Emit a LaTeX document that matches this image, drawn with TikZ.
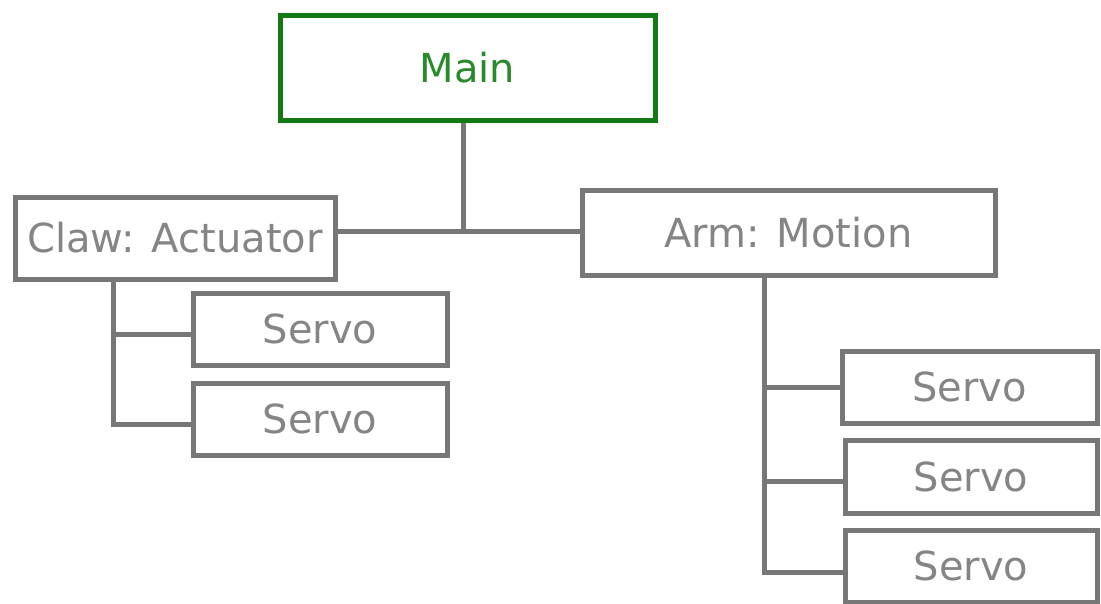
\documentclass[tikz,border=0pt]{standalone}
\usepackage{fontspec}
\setmainfont{DejaVu Sans}
\definecolor{treegray}{HTML}{777777}
\definecolor{labelgray}{HTML}{858585}
\definecolor{rootgreen}{HTML}{137A13}
\definecolor{roottext}{HTML}{2A8A2A}
\begin{document}
\begin{tikzpicture}[x=1pt,y=-1pt,
  box/.style={draw=treegray, line width=5pt, rectangle, inner sep=0pt,
    fill=white, text=labelgray, font=\fontsize{40}{48}\selectfont},
  rootbox/.style={box, draw=rootgreen, text=roottext},
  link/.style={draw=treegray, line width=5pt}]
  \useasboundingbox (0,0) rectangle (1101,603);

  % boxes
  \node[rootbox, minimum width=375pt, minimum height=105pt] (main) at (467.5,67.5) {Main};
  \node[box, minimum width=320pt, minimum height=82pt] (claw) at (175,238) {Claw: Actuator};
  \node[box, minimum width=413pt, minimum height=85pt] (arm) at (788.5,232.5) {Arm: Motion};
  \node[box, minimum width=254pt, minimum height=72pt] (cs1) at (320,329) {Servo};
  \node[box, minimum width=254pt, minimum height=72pt] (cs2) at (320,419) {Servo};
  \node[box, minimum width=255pt, minimum height=72pt] (as1) at (969.5,387) {Servo};
  \node[box, minimum width=252pt, minimum height=73pt] (as2) at (971,476.5) {Servo};
  \node[box, minimum width=252pt, minimum height=72pt] (as3) at (971,566) {Servo};

  % junction points of the tree lines
  \coordinate (top) at (463,231);
  \coordinate (cbus) at (113,0);
  \coordinate (c1) at (0,334);
  \coordinate (c2) at (0,424);
  \coordinate (abus) at (764,0);
  \coordinate (a1) at (0,387);
  \coordinate (a2) at (0,481);
  \coordinate (a3) at (0,572);

  % main to its two children
  \draw[link] (main.south -| top) -- (top);
  \draw[link] (claw.east |- top) -- (arm.west |- top);

  % claw branch
  \draw[link] (claw.south -| cbus) -- (cbus |- c2) -- (cs2.west |- c2);
  \draw[link] (cbus |- c1) -- (cs1.west |- c1);

  % arm branch
  \draw[link] (arm.south -| abus) -- (abus |- a3) -- (as3.west |- a3);
  \draw[link] (abus |- a1) -- (as1.west |- a1);
  \draw[link] (abus |- a2) -- (as2.west |- a2);
\end{tikzpicture}
\end{document}
